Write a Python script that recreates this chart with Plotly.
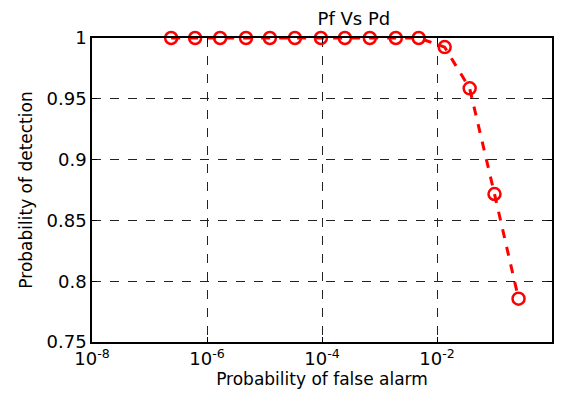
import plotly.graph_objects as go

pf = [2.38e-7, 6.21e-7, 1.69e-6, 4.77e-6, 1.24e-5, 3.38e-5, 9.57e-5,
      2.50e-4, 6.79e-4, 1.92e-3, 4.81e-3, 1.36e-2, 3.70e-2, 1.00e-1, 2.62e-1]
pd_vals = [1.0, 1.0, 1.0, 1.0, 1.0, 1.0, 1.0, 1.0, 1.0, 1.0, 1.0,
           0.9925, 0.9586, 0.8717, 0.7856]
x_tickvals = [1e-8, 1e-6, 1e-4, 1e-2, 1e0]
x_ticktext = ["10<sup>-8</sup>", "10<sup>-6</sup>", "10<sup>-4</sup>", "10<sup>-2</sup>", "10<sup>0</sup>"]
y_tickvals = [0.75, 0.8, 0.85, 0.9, 0.95, 1.0]
y_ticktext = ["0.75", "0.8", "0.85", "0.9", "0.95", "1"]

fig = go.Figure()
fig.add_trace(go.Scatter(
    x=pf, y=pd_vals, mode="lines+markers",
    line=dict(color="#ff0000", width=3, dash="dash"),
    marker=dict(symbol="circle-open", size=12, color="#ff0000", line=dict(width=2.5, color="#ff0000")),
    cliponaxis=False, showlegend=False,
))

font = "DejaVu Sans, Liberation Sans, Arial, sans-serif"
fig.update_layout(
    width=566, height=396,
    margin=dict(l=92, r=14, t=38, b=54, autoexpand=False),
    paper_bgcolor="white", plot_bgcolor="white",
    font=dict(family=font, size=17, color="black"),
    title=dict(text="Pf Vs Pd", x=(92 + 552.5) / 2 / 566, xanchor="center",
               y=1 - 19 / 396, yanchor="middle", xref="paper",
               font=dict(size=18, family=font, color="black")),
    xaxis=dict(
        type="log", range=[-8, 0], tickvals=x_tickvals, ticktext=x_ticktext,
        showline=True, linecolor="black", linewidth=1.5, mirror="ticks",
        ticks="inside", ticklen=5, tickcolor="black", automargin=False,
        showgrid=True, gridcolor="#222222", griddash="dash", gridwidth=1,
        zeroline=False,
        title=dict(text="Probability of false alarm", standoff=2, font=dict(size=17)),
        tickfont=dict(size=18),
    ),
    yaxis=dict(
        range=[0.75, 1.0], tickvals=y_tickvals, ticktext=y_ticktext,
        showline=True, linecolor="black", linewidth=1.5, mirror="ticks",
        ticks="inside", ticklen=5, tickcolor="black", automargin=False,
        showgrid=True, gridcolor="#222222", griddash="dash", gridwidth=1,
        zeroline=False,
        title=dict(text="Probability of detection", standoff=10, font=dict(size=17)),
        tickfont=dict(size=18),
    ),
)
fig.write_html("out.html", config={"displayModeBar": False},
               post_script="document.body.style.margin='0';document.body.style.overflow='hidden';")
